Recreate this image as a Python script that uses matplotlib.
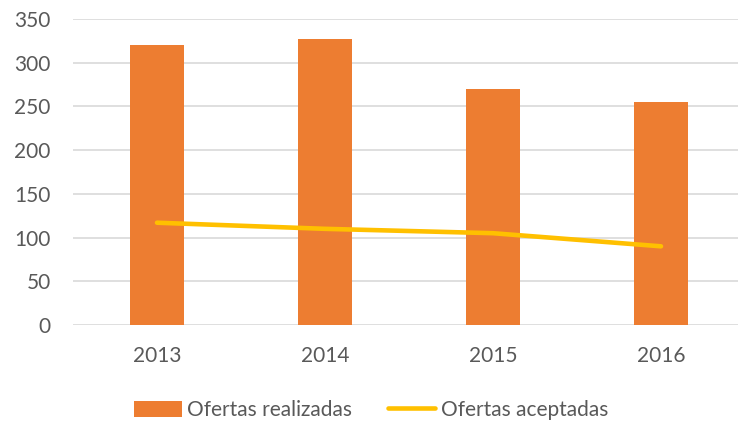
import matplotlib.pyplot as plt
import numpy as np

years = ['2013', '2014', '2015', '2016']
realizadas = [320, 327, 270, 255]
aceptadas = [117, 110, 105, 90]

plt.rcParams['font.family'] = ['Lato', 'DejaVu Sans']

W, H = 738, 423
fig = plt.figure(figsize=(W / 100, H / 100), dpi=100)
# axes in pixel coordinates: left 73, right 745 (clipped), top 19, bottom 325
ax = fig.add_axes([73 / W, (H - 325) / H, 672 / W, 306 / H])

x = np.arange(len(years))
bars = ax.bar(x, realizadas, width=0.32, color='#ED7D31', label='Ofertas realizadas', zorder=2)
line, = ax.plot(x, aceptadas, color='#FFC000', lw=3.3, solid_capstyle='round',
                label='Ofertas aceptadas', zorder=3)

ax.set_xlim(-0.5, 3.5)
ax.set_ylim(0, 350)
ax.set_yticks(np.arange(0, 351, 50))
ax.set_xticks(x)
ax.set_xticklabels(years)
ax.yaxis.grid(True, color='#D9D9D9', lw=1.2, zorder=0)
ax.set_axisbelow(True)
for s in ax.spines.values():
    s.set_visible(False)
ax.tick_params(length=0, labelsize=15, colors='#595959')
ax.tick_params(axis='y', pad=16)
ax.tick_params(axis='x', pad=15)

fig.legend(handles=[bars, line], loc='center', bbox_to_anchor=(371 / W, (H - 410) / H),
           ncol=2, frameon=False, fontsize=15, labelcolor='#595959',
           handlelength=2.3, handleheight=0.8, handletextpad=0.25, columnspacing=1.7)

fig.savefig('out.png', dpi=100)
